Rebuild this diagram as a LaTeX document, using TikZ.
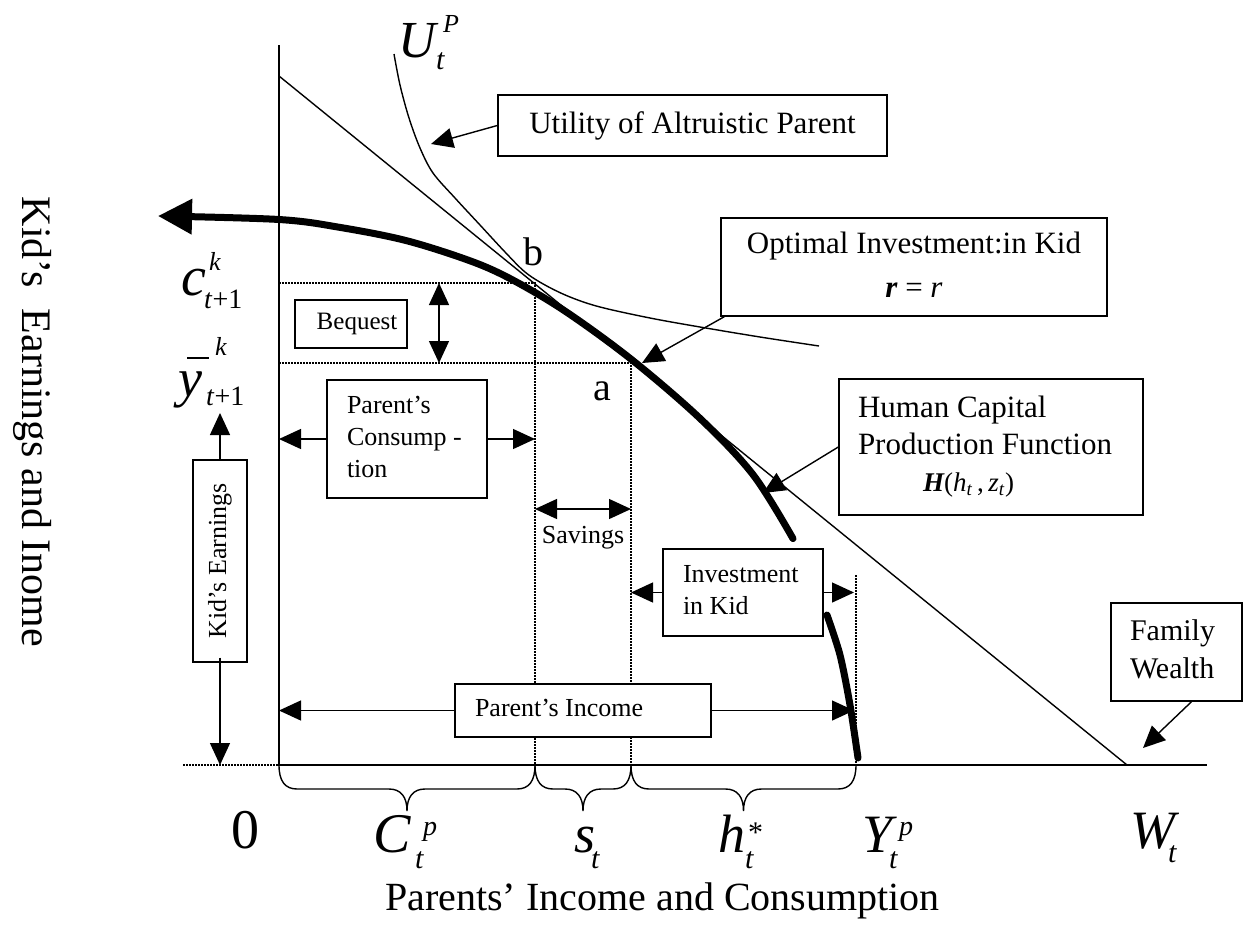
\documentclass[tikz,border=0pt]{standalone}
\usepackage{fontspec}
\setmainfont{Liberation Serif}
\usetikzlibrary{arrows.meta,calc}
\newcommand{\fz}[1]{\fontsize{#1}{#1}\selectfont}
\newcommand{\btxt}[2]{\makebox[#1][l]{\begin{tabular}{@{}l@{}}#2\end{tabular}}}
\newcommand{\brce}[2]{%
  \path (#1) coordinate (bA) (#2) coordinate (bB) ($(bA)!0.5!(bB)$) coordinate (bM);
  \draw[brcline] (bA) .. controls +(0,16) and +(-12,0) .. ($(bA)+(18,24)$)
    -- ($(bM)+(-18,24)$) .. controls +(12,0) and +(0,-14) .. ($(bM)+(0,46)$)
    .. controls +(0,-14) and +(-12,0) .. ($(bM)+(18,24)$)
    -- ($(bB)+(-18,24)$) .. controls +(12,0) and +(0,16) .. (bB);}
\begin{document}
\begin{tikzpicture}[x=1pt,y=-1pt,
  thinl/.style={line width=1.4pt},
  axisl/.style={line width=1.6pt},
  bold/.style={line width=7pt, line cap=round, line join=round},
  box/.style={draw, line width=1.4pt, fill=white, inner sep=0pt},
  arr/.style={line width=1.4pt, -{Triangle[length=22pt,width=20pt]}},
  darr/.style={line width=1.4pt, {Triangle[length=22pt,width=20pt]}-{Triangle[length=22pt,width=20pt]}},
  dots/.style={line width=1.1pt, dash pattern=on 1.5pt off 1.5pt},
  brcline/.style={line width=1.4pt},
  lab/.style={inner sep=0pt, anchor=base west},
  ]
\useasboundingbox (0,0) rectangle (1243,930);
% key coordinates
\coordinate (O) at (279,765);
\coordinate (Ytop) at (279,45);
\coordinate (Xend) at (1207,765);
\coordinate (S1) at (535,765);
\coordinate (S2) at (631,765);
\coordinate (Yp) at (856,765);
\coordinate (B0) at (279,76);
\coordinate (Wt) at (1127,765);
\coordinate (cL) at (279,283);
\coordinate (cR) at (535,283);
\coordinate (yL) at (279,363);
\coordinate (yR) at (631,363);
\coordinate (dY) at (856,575);
\coordinate (dL) at (183,765);
% axes
\draw[axisl] (Ytop) -- (O) -- (Xend);
\draw[dots] (dL) -- (O);
% budget line
\draw[thinl] (B0) -- (Wt);
% indifference curve
\draw[thinl] plot[smooth, tension=0.55] coordinates {(394,54) (400,85) (409,118) (420,148) (433,173) (455,198) (480,225) (505,252) (525,272) (545,285) (570,297) (600,307) (650,318) (700,327) (760,337) (819,346)};
% dotted guide lines
\draw[dots] (cL) -- (cR) -- (S1);
\draw[dots] (yL) -- (yR) -- (S2);
\draw[dots] (dY) -- (Yp);
% production function
\draw[bold, -{Triangle[length=34pt,width=34pt]}] plot[smooth, tension=0.55] coordinates {(793,538.6) (753,474.6) (700,418.4) (632,359.9) (567,312.4) (515,281.2) (473,261.9) (407,240.8) (340,227.4) (279,219.5) (158,216)};
\draw[bold] plot[smooth] coordinates {(827,615) (840,655) (850,705) (858,758)};
% braces
\brce{O}{S1}
\brce{S1}{S2}
\brce{S2}{Yp}
% boxes
\node[box, minimum width=389pt, minimum height=61pt, font=\fontsize{31}{37}\selectfont] (util) at (692.5,125.5) {Utility of Altruistic Parent};
\node[box, minimum width=386pt, minimum height=98pt, font=\fontsize{31}{44}\selectfont] (opt) at (914,267) {\begin{tabular}{@{}c@{}}Optimal Investment:in Kid\\{\bfseries\itshape r} = {\itshape r}\end{tabular}};
\node[box, minimum height=136pt, inner xsep=19pt, font=\fontsize{31}{37}\selectfont] (hcap) at (991,447) {\btxt{266pt}{Human Capital\\Production Function\\\hspace*{65pt}{\fz{27}{\bfseries\itshape H}(\textit{h}\textsubscript{\textit{t}}\,,\,\textit{z}\textsubscript{\textit{t}})}}};
\node[box, minimum height=98pt, inner xsep=19pt, font=\fontsize{30}{38}\selectfont] (fam) at (1176.5,652) {\btxt{93pt}{Family\\Wealth}};
\node[box, minimum height=87pt, inner xsep=20pt, font=\fontsize{26}{32}\selectfont] (inv) at (743,592.5) {\btxt{120pt}{Investment\\in Kid}};
\node[box, minimum height=53pt, inner xsep=20pt, font=\fontsize{26}{32}\selectfont] (pinc) at (583,710.5) {\btxt{216pt}{Parent’s Income}};
\node[box, minimum height=118pt, inner xsep=20pt, font=\fontsize{26}{32}\selectfont] (pcons) at (407,439) {\btxt{120pt}{Parent’s\\Consump -\\tion}};
\node[box, minimum width=112pt, minimum height=48pt, font=\fontsize{25}{30}\selectfont] (beq) at (351,324) {\hspace*{12pt}Bequest};
\node[box, rotate=90, minimum width=202pt, minimum height=54pt, font=\fontsize{26}{32}\selectfont] (kid) at (220,561) {Kid’s Earnings};
% arrow end points
\coordinate (uTip) at (431,144);
\coordinate (oTip) at (642,363);
\coordinate (hTip) at (763,493);
\coordinate (fTip) at (1143,748);
\coordinate (sv1) at (535,509);
\coordinate (sv2) at (631,509);
\coordinate (bq1) at (439,283);
\coordinate (bq2) at (439,363);
\coordinate (kUp) at (220,413);
\coordinate (kDn) at (220,765);
% arrows
\draw[arr] (util.west) -- (uTip);
\draw[arr] ([xshift=4pt]opt.south west) -- (oTip);
\draw[arr] (hcap.west) -- (hTip);
\draw[arr] ([xshift=15pt]fam.south) -- (fTip);
\draw[arr] (pcons.west) -- (pcons.west -| O);
\draw[arr] (pcons.east) -- (pcons.east -| S1);
\draw[arr] (inv.west) -- (inv.west -| S2);
\draw[arr] (inv.east) -- ([xshift=-2pt]inv.east -| Yp);
\draw[arr] (pinc.west) -- (pinc.west -| O);
\draw[arr] (pinc.east) -- ([xshift=-2pt]pinc.east -| Yp);
\draw[darr] (sv1) -- (sv2);
\draw[darr] (bq1) -- (bq2);
\draw[arr] (kid.east) -- (kUp);
\draw[arr] ([yshift=5pt]kid.west) -- (kDn);
\node[font=\fontsize{26}{30}\selectfont, inner sep=0pt, anchor=base] (savl) at (583,543) {Savings};
% point labels
\node[lab, font=\fz{40}] (lb) at (523,265) {b};
\node[lab, font=\fz{40}] (la) at (593,400) {a};
% utility label
\node[lab, font={\fz{52}\itshape}] (lU) at (398,57) {U};
\node[lab, font={\fz{26}\itshape}] (lUp) at (443,32) {P};
\node[lab, font={\fz{30}\itshape}] (lUt) at (436,69) {t};
% vertical axis labels
\node[lab, font={\fz{56}\itshape}] (lc) at (181,295) {c};
\node[lab, font={\fz{26}\itshape}] (lck) at (209,270) {k};
\node[lab, font=\fz{28}] (lct) at (204,308) {\textit{t}+1};
\node[lab, font={\fz{54}\itshape}] (ly) at (178,396) {y};
\coordinate (ybar1) at (187,358);
\coordinate (ybar2) at (209,358);
\draw[line width=2pt] (ybar1) -- (ybar2);
\node[lab, font={\fz{26}\itshape}] (lyk) at (215,355) {k};
\node[lab, font=\fz{28}] (lyt) at (206,405) {\textit{t}+1};
% horizontal axis labels
\node[lab, font=\fz{56}] (l0) at (231,848) {0};
\node[lab, font={\fz{56}\itshape}] (lC) at (373,852) {C};
\node[lab, font={\fz{28}\itshape}] (lCp) at (423,835) {p};
\node[lab, font={\fz{30}\itshape}] (lCt) at (415,868) {t};
\node[lab, font={\fz{54}\itshape}] (ls) at (574,852) {s};
\node[lab, font={\fz{30}\itshape}] (lst) at (591,868) {t};
\node[lab, font={\fz{54}\itshape}] (lh) at (718,852) {h};
\node[lab, font=\fz{30}] (lhs) at (748,842) {*};
\node[lab, font={\fz{30}\itshape}] (lht) at (745,868) {t};
\node[lab, font={\fz{54}\itshape}] (lY) at (862,852) {Y};
\node[lab, font={\fz{28}\itshape}] (lYp) at (899,835) {p};
\node[lab, font={\fz{30}\itshape}] (lYt) at (889,868) {t};
\node[lab, font={\fz{54}\itshape}] (lW) at (1130,848) {W};
\node[lab, font={\fz{30}\itshape}] (lWt) at (1168,862) {t};
% axis titles
\node[lab, font=\fz{40}] (xlab) at (385,910) {Parents’ Income and Consumption};
\node[font=\fz{42}, rotate=-90, anchor=base, inner sep=0pt] (ylab) at (22,422) {Kid’s\ \ Earnings and Inome};
\end{tikzpicture}
\end{document}
